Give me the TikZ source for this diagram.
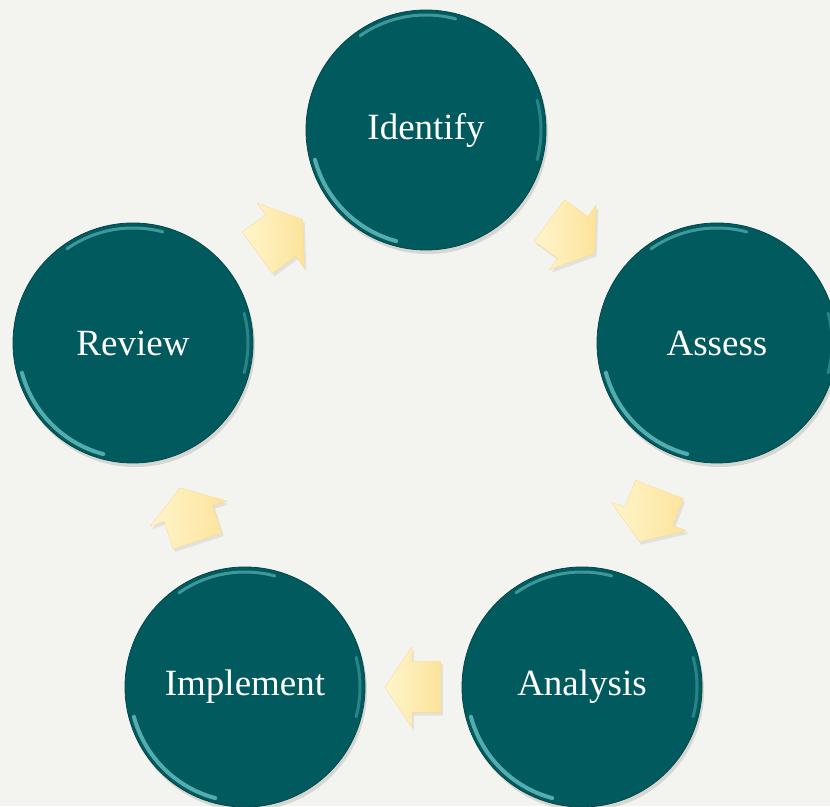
\documentclass[tikz,border=0pt]{standalone}
\usepackage{fontspec}
\setmainfont{Liberation Serif}
\usetikzlibrary{shapes.arrows,shadows,calc}

\definecolor{bgcol}{HTML}{F3F3EF}
\definecolor{tealfill}{HTML}{005A5E}
\definecolor{rimlight}{HTML}{8FE3E3}
\definecolor{arrowlight}{HTML}{FFF5CC}
\definecolor{arrowdark}{HTML}{FCE39A}

\begin{document}
\begin{tikzpicture}[x=1pt, y=1pt,
    stage/.style={circle, fill=tealfill, draw=tealfill!80!black, line width=0.8pt,
        minimum size=240pt, inner sep=0pt, text=white,
        font=\fontsize{37}{40}\selectfont,
        drop shadow={opacity=0.25, shadow xshift=2pt, shadow yshift=-4pt}},
    flow/.style={single arrow, minimum height=56pt, inner xsep=0pt, inner ysep=25.5pt,
        single arrow head extend=14.5pt, single arrow tip angle=112,
        left color=arrowlight, right color=arrowdark, draw=arrowdark!90!orange, line width=0.3pt,
        drop shadow={opacity=0.15, shadow xshift=2pt, shadow yshift=-3pt}},
    rim/.style={line width=3pt, rimlight, line cap=round, opacity=0.45}]

    % Background
    \fill[bgcol] (0,0) rectangle (830,806);
    \useasboundingbox (0,0) rectangle (830,806);
    \clip (0,0) rectangle (830,806);

    % The five stages
    \node[stage] (identify)  at (426,676) {Identify};
    \node[stage] (assess)    at (717,463) {Assess};
    \node[stage] (analysis)  at (582,119) {Analysis};
    \node[stage] (implement) at (245,119) {Implement};
    \node[stage] (review)    at (133,463) {Review};

    % Bevel highlights on the rims
    \foreach \n in {identify,assess,analysis,implement,review} {
        \draw[rim] ([shift={(125:115)}]\n.center) arc (125:75:115);
        \draw[rim, line width=4pt, opacity=0.6] ([shift={(195:115)}]\n.center) arc (195:255:115);
        \draw[rim, opacity=0.3] ([shift={(15:115)}]\n.center) arc (15:-15:115);
    }

    % Arrows between stages (pulled back a little along their direction)
    \node[flow, rotate=36, xshift=-8pt]   (a1) at ($(review)!0.5!(identify)$) {};
    \node[flow, rotate=-36, xshift=-8pt]  (a2) at ($(identify)!0.5!(assess)$) {};
    \node[flow, rotate=-111, xshift=-8pt] (a3) at ($(assess)!0.5!(analysis)$) {};
    \node[flow, rotate=180, xshift=-8pt]  (a4) at ($(analysis)!0.5!(implement)$) {};
    \node[flow, rotate=108, xshift=-8pt]  (a5) at ($(implement)!0.5!(review)$) {};

\end{tikzpicture}
\end{document}
